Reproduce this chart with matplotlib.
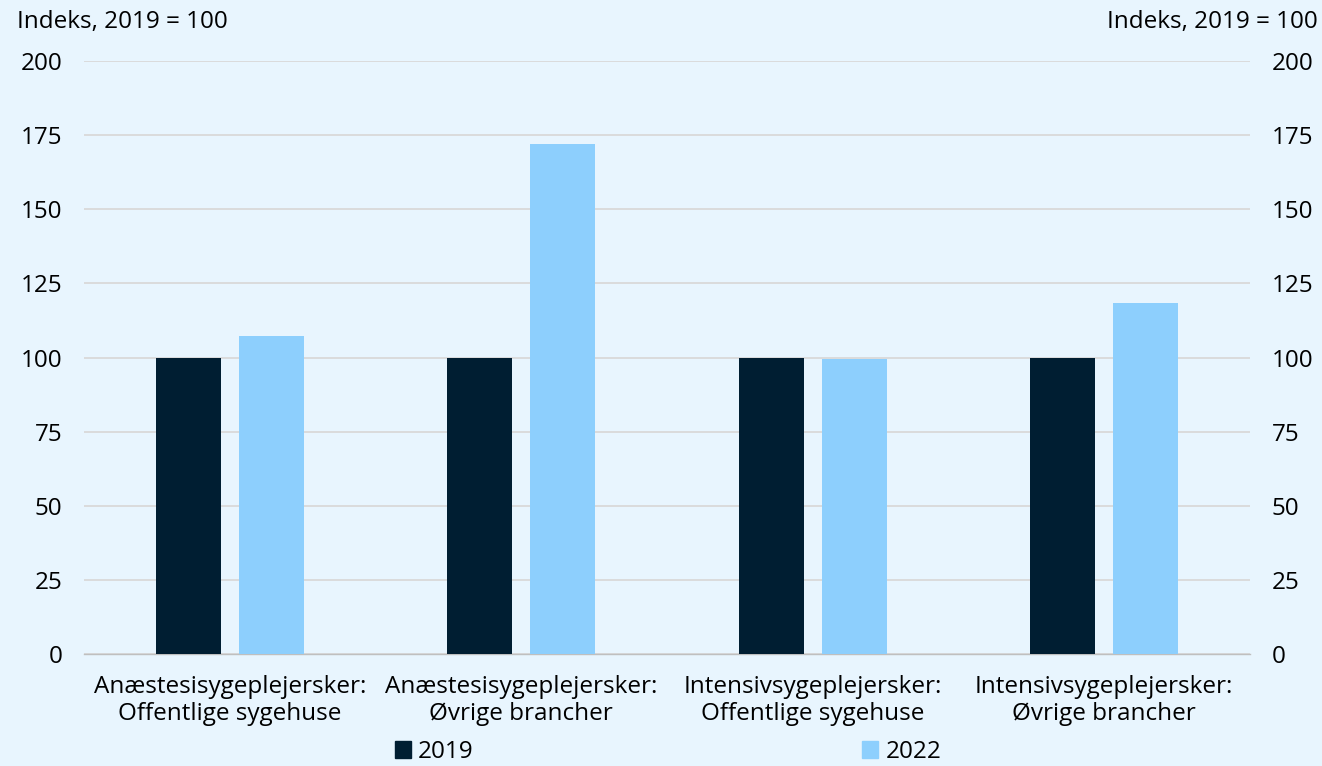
import matplotlib
matplotlib.use("Agg")
import matplotlib.pyplot as plt
import numpy as np
from matplotlib.patches import Patch

categories = ["Anæstesisygeplejersker:\nOffentlige sygehuse",
              "Anæstesisygeplejersker:\nØvrige brancher",
              "Intensivsygeplejersker:\nOffentlige sygehuse",
              "Intensivsygeplejersker:\nØvrige brancher"]
series_names = ["2019", "2022"]
values_2019 = [100, 100, 100, 100]
values_2022 = [107.3, 172.0, 99.5, 118.3]
yticks = [0, 25, 50, 75, 100, 125, 150, 175, 200]
ylabel = "Indeks, 2019 = 100"

bg = "#E8F5FE"
c2019 = "#001E32"
c2022 = "#8DCFFD"
plt.rcParams['font.family'] = ['Open Sans', 'DejaVu Sans']
fs = 17.5

fig = plt.figure(figsize=(13.22, 7.66), dpi=100, facecolor=bg)
ax = fig.add_axes([84/1322, 1-654/766, (1250-84)/1322, (654-61)/766])
ax.set_facecolor(bg)
x = np.arange(len(categories))
w = 0.223
off = 0.1424
ax.bar(x - off, values_2019, w, color=c2019, zorder=3)
ax.bar(x + off, values_2022, w, color=c2022, zorder=3)
ax.set_xlim(-0.5, len(categories) - 0.5)
ax.set_ylim(0, 200)
ax.set_yticks(yticks)
ax.set_yticklabels([str(t) for t in yticks], fontsize=fs)
ax.set_xticks(x)
ax.set_xticklabels(categories, fontsize=fs, linespacing=1.15)
ax.tick_params(axis='both', length=0, colors="#000000")
ax.tick_params(axis='y', pad=15.5)
ax.tick_params(axis='x', pad=15)
ax.grid(axis='y', color="#D9D9D9", linewidth=1.3, zorder=0)
for s in ['top', 'right', 'left']:
    ax.spines[s].set_visible(False)
ax.spines['bottom'].set_color("#BFBFBF")
ax.spines['bottom'].set_linewidth(1.0)

ax2 = ax.twinx()
ax2.set_ylim(0, 200)
ax2.set_yticks(yticks)
ax2.set_yticklabels([str(t) for t in yticks], fontsize=fs)
ax2.tick_params(axis='y', length=0, pad=15.5)
for s in ax2.spines.values():
    s.set_visible(False)

fig.text(17/1322, 1-22/766, ylabel, fontsize=fs, ha='left', va='center')
fig.text(1318/1322, 1-22/766, ylabel, fontsize=fs, ha='right', va='center')

handles = [Patch(color=c2019), Patch(color=c2022)]
fig.legend(handles, series_names, loc='center', bbox_to_anchor=(668/1322, 1-752/766),
           ncol=2, frameon=False, fontsize=fs, handlelength=0.65, handleheight=0.65,
           handletextpad=0.3, columnspacing=16.0, borderpad=0, borderaxespad=0)

fig.savefig("out.png", dpi=100, facecolor=bg)
